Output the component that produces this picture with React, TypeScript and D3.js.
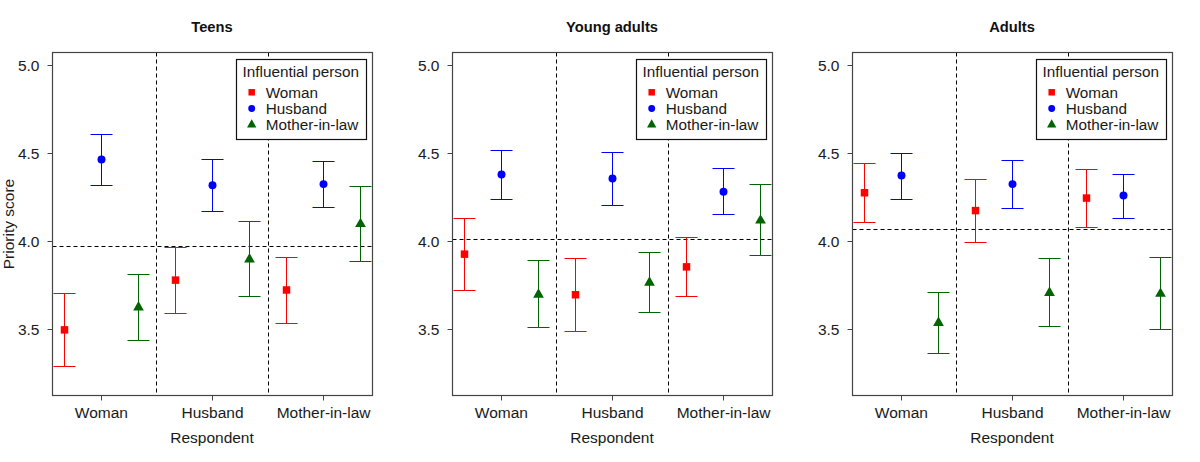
import React from "react";
import * as d3 from "d3";

// panels and categories
const panels = ["Teens", "Young adults", "Adults"];
const respondents = ["Woman", "Husband", "Mother-in-law"];
const influencers = ["Woman", "Husband", "Mother-in-law"];
const yTicks = [3.5, 4.0, 4.5, 5.0];

// rows = influential person (Woman, Husband, Mother-in-law), columns = respondent
const teensMean = [[3.5, 3.782, 3.726], [4.465, 4.32, 4.326], [3.628, 3.9, 4.1]];
const teensLow = [[3.293, 3.592, 3.538], [4.318, 4.172, 4.194], [3.441, 3.688, 3.888]];
const teensHigh = [[3.707, 3.968, 3.908], [4.608, 4.464, 4.456], [3.814, 4.113, 4.315]];

const youngMean = [[3.929, 3.699, 3.857], [4.381, 4.358, 4.283], [3.7, 3.768, 4.12]];
const youngLow = [[3.722, 3.49, 3.69], [4.238, 4.206, 4.153], [3.511, 3.6, 3.921]];
const youngHigh = [[4.13, 3.904, 4.023], [4.518, 4.507, 4.416], [3.891, 3.936, 4.322]];

const adultsMean = [[4.277, 4.176, 4.247], [4.375, 4.326, 4.262], [3.54, 3.71, 3.705]];
const adultsLow = [[4.11, 3.997, 4.081], [4.238, 4.189, 4.13], [3.366, 3.517, 3.501]];
const adultsHigh = [[4.441, 4.351, 4.409], [4.501, 4.458, 4.382], [3.713, 3.902, 3.908]];

// overall mean per panel (horizontal dashed line)
const overallMean = [3.97, 4.01, 4.066];

const panelData = [
  { mean: teensMean, low: teensLow, high: teensHigh },
  { mean: youngMean, low: youngLow, high: youngHigh },
  { mean: adultsMean, low: adultsLow, high: adultsHigh },
];

const colors = ["#ff0000", "#0000ff", "#006400"];
const shapes = [d3.symbolSquare, d3.symbolCircle, d3.symbolTriangle];
const sizes = [56, 50, 50];
const offsets = [-1 / 3, 0, 1 / 3];

const W = 1200;
const H = 462;
const panelW = 400;
const left = 52.5;
const right = 372.5;
const top = 52.5;
const bottom = 395.5;
const font = "'Liberation Sans', Arial, sans-serif";
const txt = "#1a1a1a";
const frame = "#444";

// snap to half pixels so 1px lines stay crisp
const crisp = (v: number) => Math.round(v - 0.5) + 0.5;

function Panel({ idx }: { idx: number }) {
  const ox = idx * panelW;
  const x = d3.scaleLinear().domain([0.56, 3.44]).range([ox + left, ox + right]);
  const y = d3.scaleLinear().domain([3.128, 5.072]).range([bottom, top]);
  const d = panelData[idx];
  const capHalf = 11;

  return (
    <g>
      <text x={ox + 212} y={32} textAnchor="middle" fontWeight="bold" fontSize={14.7} fill="#111">
        {panels[idx]}
      </text>

      {/* separators */}
      {[1.5, 2.5].map((v) => (
        <line key={v} x1={crisp(x(v))} x2={crisp(x(v))} y1={top} y2={bottom} stroke="#000" strokeDasharray="4,3" />
      ))}
      <line
        x1={ox + left}
        x2={ox + right}
        y1={crisp(y(overallMean[idx]))}
        y2={crisp(y(overallMean[idx]))}
        stroke="#000"
        strokeDasharray="4,3"
      />

      {/* error bars */}
      {influencers.map((_, s) =>
        respondents.map((_, r) => {
          const cx = x(r + 1 + offsets[s]);
          const lx = crisp(cx);
          const sym = d3.symbol().type(shapes[s]).size(sizes[s])();
          const yl = crisp(y(d.low[s][r]));
          const yh = crisp(y(d.high[s][r]));
          return (
            <g key={`${s}-${r}`} stroke={colors[s]} strokeWidth={1}>
              <line x1={lx} x2={lx} y1={yl} y2={yh} />
              <line x1={lx - capHalf} x2={lx + capHalf} y1={yl} y2={yl} />
              <line x1={lx - capHalf} x2={lx + capHalf} y1={yh} y2={yh} />
              <path d={sym || ""} transform={`translate(${lx},${y(d.mean[s][r])})`} fill={colors[s]} stroke="none" />
            </g>
          );
        })
      )}

      {/* frame */}
      <rect x={ox + left} y={top} width={right - left} height={bottom - top} fill="none" stroke={frame} strokeWidth={1.2} />

      {/* y axis */}
      {yTicks.map((t) => (
        <g key={t}>
          <line x1={ox + left - 5} x2={ox + left} y1={crisp(y(t))} y2={crisp(y(t))} stroke={frame} />
          <text x={ox + left - 13} y={y(t) + 5.5} textAnchor="end" fontSize={15.5} fill={txt}>
            {t.toFixed(1)}
          </text>
        </g>
      ))}

      {/* x axis */}
      {respondents.map((r, i) => (
        <g key={r}>
          <line x1={crisp(x(i + 1))} x2={crisp(x(i + 1))} y1={bottom} y2={bottom + 5} stroke={frame} />
          <text x={x(i + 1)} y={418} textAnchor="middle" fontSize={15.5} fill={txt}>
            {r}
          </text>
        </g>
      ))}
      <text x={ox + 212} y={443} textAnchor="middle" fontSize={15.5} fill={txt}>
        Respondent
      </text>

      {/* legend */}
      <rect x={ox + 236.5} y={59.5} width={130} height={80} fill="#fff" stroke="#111" strokeWidth={1.2} />
      <text x={ox + 242.5} y={76.5} fontSize={15.3} fill={txt}>
        Influential person
      </text>
      {influencers.map((name, s) => {
        const cy = 92.3 + s * 16.2;
        const sym = d3.symbol().type(shapes[s]).size(sizes[s] * 0.75)();
        return (
          <g key={name}>
            <path d={sym || ""} transform={`translate(${ox + 251.7},${cy})`} fill={colors[s]} />
            <text x={ox + 265.7} y={cy + 5.3} fontSize={15.3} fill={txt}>
              {name}
            </text>
          </g>
        );
      })}
    </g>
  );
}

export default function App() {
  return (
    <svg width={W} height={H} style={{ position: "absolute", left: 0, top: 0, background: "#fff" }} fontFamily={font}>
      <rect width={W} height={H} fill="#fff" />
      {panels.map((_, i) => (
        <Panel key={i} idx={i} />
      ))}
      <text
        transform={`translate(14,${(top + bottom) / 2}) rotate(-90)`}
        textAnchor="middle"
        fontSize={15.5}
        fill={txt}
      >
        Priority score
      </text>
    </svg>
  );
}
